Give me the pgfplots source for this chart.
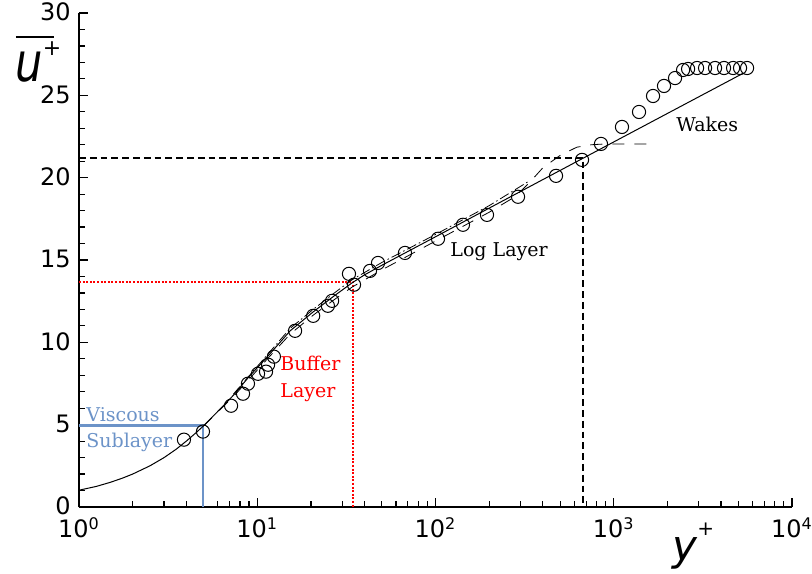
\documentclass[border=0pt]{standalone}
\usepackage{fontspec}
\setmainfont{DejaVu Serif}
\newfontfamily\ticfont{DejaVu Sans}
\newfontfamily\labfont{DejaVu Sans}
\usepackage{graphicx}
\usepackage{pgfplots}
\pgfplotsset{compat=1.18}
\definecolor{vblue}{RGB}{108,147,200}
\begin{document}
\begin{tikzpicture}
\useasboundingbox (-39.5pt,-33pt) rectangle (366.5pt,253.5pt);
\begin{axis}[
  scale only axis, width=356.5pt, height=247pt,
  at={(0,0)}, anchor=south west,
  xmode=log, xmin=1, xmax=10000, ymin=0, ymax=30,
  axis x line*=bottom, axis y line*=left,
  axis line style={line width=1pt},
  tick align=inside,
  major tick length=4.5pt, minor tick length=2.8pt,
  every tick/.style={black, line width=0.6pt},
  xtick={1,10,100,1000,10000},
  xticklabels={10\textsuperscript{0},10\textsuperscript{1},10\textsuperscript{2},10\textsuperscript{3},10\textsuperscript{4}},
  minor xtick={2,3,4,5,6,7,8,9,20,30,40,50,60,70,80,90,200,300,400,500,600,700,800,900,2000,3000,4000,5000,6000,7000,8000,9000},
  ytick={0,5,10,15,20,25,30},
  yticklabels={0,5,10,15,20,25,30},
  minor ytick={1,2,3,4,6,7,8,9,11,12,13,14,16,17,18,19,21,22,23,24,26,27,28,29},
  ticklabel style={font=\ticfont\fontsize{12}{12}\selectfont, inner sep=0.8pt},
  xticklabel style={yshift=-4.2pt},
  yticklabel style={xshift=-3.2pt, yshift=0.5pt},
  clip=false,
]
% annotation lines
\addplot[vblue, line width=1.4pt] coordinates {(1,4.97) (4.96,4.97) (4.96,0)};
\addplot[red, line width=1pt, dash pattern=on 1pt off 0.8pt] coordinates {(1,13.68) (34.45,13.68) (34.45,0)};
\addplot[black, line width=1.4pt, dash pattern=on 3.4pt off 2pt] coordinates {(1,21.2) (672,21.2) (672,0)};
% long dashed curve
\addplot[black, line width=0.4pt, dash pattern=on 6pt off 5pt] table {
5 4.93
7.34 6.7
11.3 8.95
15.3 10.5
20.6 11.65
26.7 12.55
34 13.35
50 14.4
100 16.15
200 17.9
280 18.85
340 19.75
400 20.6
500 21.35
620 21.85
750 22.0
900 22.05
1680 22.05
};
% dash-dot curve
\addplot[black, line width=0.4pt, dash pattern=on 5pt off 1.5pt on 0.8pt off 1.5pt] table {
7.34 6.85
11.3 9.2
15.3 10.85
20.6 12.0
26.7 12.95
34 13.8
50 14.85
100 16.55
200 18.3
330 19.75
};
% solid curve
\addplot[black, line width=0.5pt] table {
1 1.02
1.25 1.25
1.5 1.5
1.75 1.75
2 2
2.5 2.5
3 3
3.5 3.5
4 4
4.5 4.48
5 4.93
6 5.8
7.34 6.78
9 7.92
11.3 9.08
15.3 10.7
20.6 11.85
26.7 12.78
33.9 13.6
40 14.1
50 14.68
100 16.41
200 18.15
500 20.44
1000 22.17
2000 23.90
5300 26.33
};
% measured data
\addplot[only marks, mark=o, mark size=3.3pt, mark options={line width=0.5pt, black}] table {
3.88 4.09
4.96 4.58
7.13 6.15
8.32 6.88
8.87 7.49
10.1 8.09
11.2 8.22
11.5 8.64
12.4 9.13
16.3 10.70
20.6 11.61
24.9 12.22
26.3 12.52
32.7 14.16
34.9 13.50
42.9 14.34
47.6 14.82
67.4 15.43
103.3 16.29
142.6 17.14
194.5 17.74
290.4 18.84
474.3 20.11
663.7 21.08
847.9 22.05
1112 23.08
1386 23.99
1661 24.96
1914 25.57
2207 26.05
2448 26.54
2612 26.60
2933 26.66
3252 26.66
3700 26.66
4155 26.66
4670 26.66
5110 26.66
5596 26.66
};
\end{axis}
% texts
\node[anchor=base west, inner sep=0, text=vblue, font=\fontsize{9.5}{9.5}\selectfont] at (3.5pt,43pt) {Viscous};
\node[anchor=base west, inner sep=0, text=vblue, font=\fontsize{9.5}{9.5}\selectfont] at (3.5pt,30pt) {Sublayer};
\node[anchor=base west, inner sep=0, text=red, font=\fontsize{9.5}{9.5}\selectfont] at (100.5pt,68.5pt) {Buffer};
\node[anchor=base west, inner sep=0, text=red, font=\fontsize{9.5}{9.5}\selectfont] at (100.5pt,55pt) {Layer};
\node[anchor=base west, inner sep=0, font=\fontsize{9.5}{9.5}\selectfont] at (185.5pt,125.2pt) {Log Layer};
\node[anchor=base west, inner sep=0, font=\fontsize{9.5}{9.5}\selectfont] at (298.5pt,187.6pt) {Wakes};
% axis labels
\node[anchor=base west, inner sep=0] at (-32pt,212.5pt) {\raisebox{0pt}[\height][0pt]{\labfont\itshape\fontsize{27}{27}\selectfont\scalebox{0.8}[1]{u}\raisebox{13pt}{\upshape\fontsize{11}{11}\selectfont +}}};
\draw[line width=0.8pt] (-31.5pt,235pt) -- (-12.5pt,235pt);
\node[anchor=base west, inner sep=0] at (296.5pt,-26.5pt) {\labfont\itshape\fontsize{21}{21}\selectfont y\raisebox{12.5pt}{\upshape\fontsize{10}{10}\selectfont +}};
\end{tikzpicture}
\end{document}
